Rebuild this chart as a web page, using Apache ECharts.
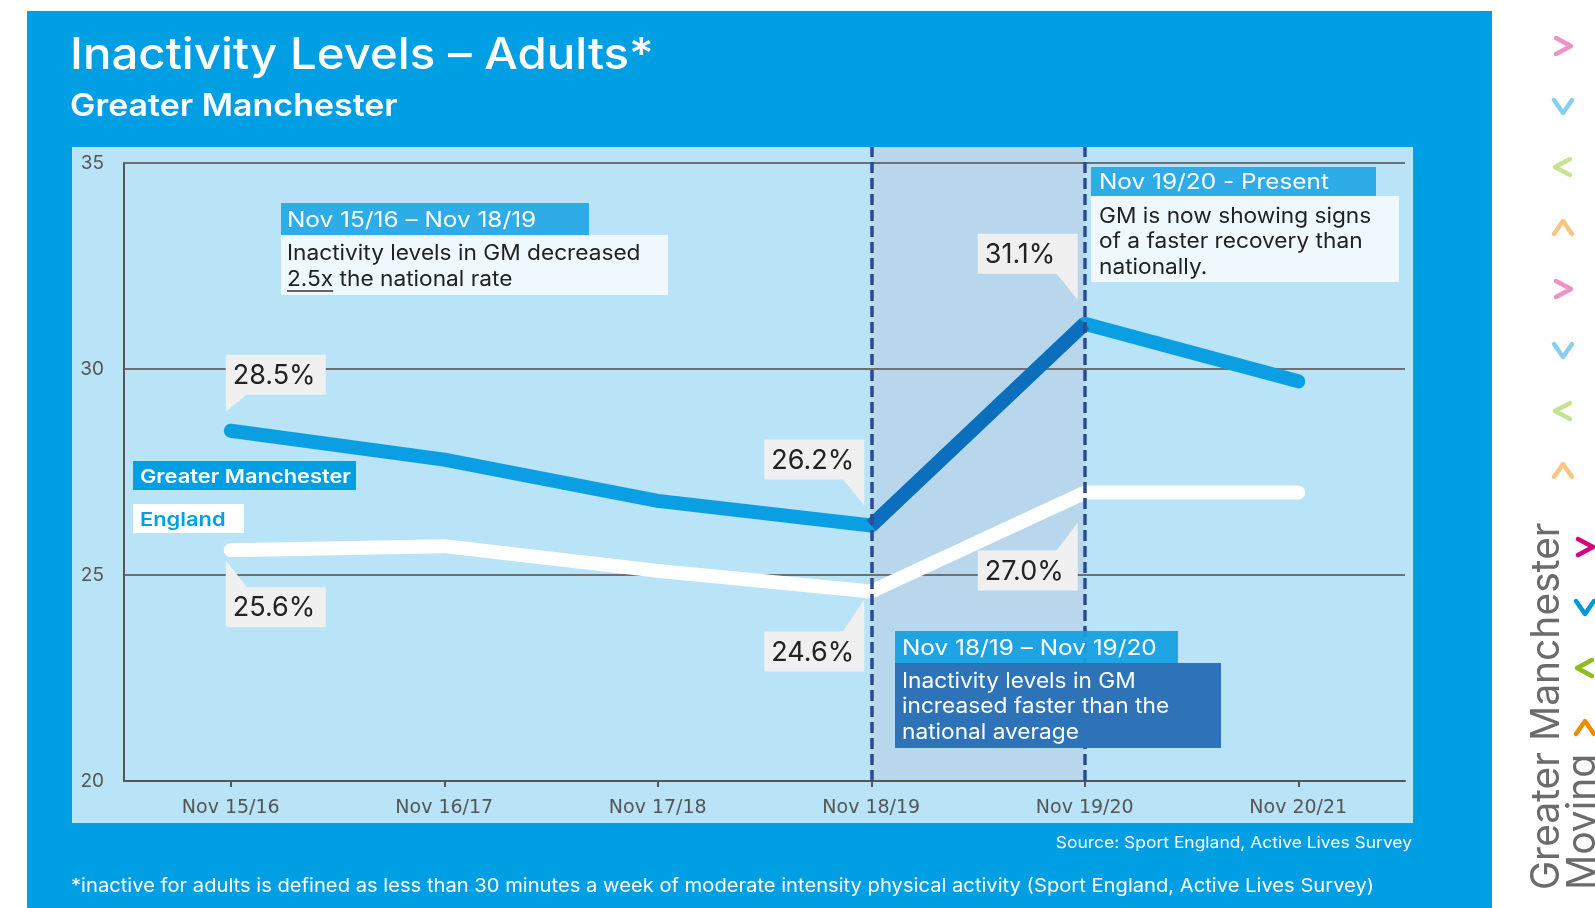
<!DOCTYPE html>
<html><head><meta charset="utf-8">
<script src="https://cdn.jsdelivr.net/npm/echarts@6/dist/echarts.min.js"></script>
<style>html,body{margin:0;padding:0;background:#fff;}#c{width:1595px;height:908px;}</style>
</head><body><div id="c"></div>
<script>
// ---------- data ----------
const categories = ['Nov 15/16', 'Nov 16/17', 'Nov 17/18', 'Nov 18/19', 'Nov 19/20', 'Nov 20/21'];
const gmValues = [28.5, 27.8, 26.8, 26.2, 31.1, 29.7];
const englandValues = [25.6, 25.7, 25.1, 24.6, 27.0, 27.0];
const yTicks = [20, 25, 30, 35];
const highlightRange = ['Nov 18/19', 'Nov 19/20'];
const calloutPoints = [['gm', 0], ['eng', 0], ['gm', 3], ['eng', 3], ['gm', 4], ['eng', 4]];

// ---------- style ----------
const FONT = 'Inter, Lato, sans-serif';
const BLUE = '#009fe3';
const calloutLayout = [
  {dir: 'ur', gap: 36, tip: 19},
  {dir: 'dr', gap: 37, tip: 10},
  {dir: 'ul', gap: 46, tip: 20},
  {dir: 'dl', gap: 40, tip: 8},
  {dir: 'ul', gap: 50, tip: 24},
  {dir: 'dl', gap: 58, tip: 30}
];

function measure(text, font) {
  const c = document.createElement('canvas').getContext('2d');
  c.font = font; return c.measureText(text).width;
}
const hi0 = categories.indexOf(highlightRange[0]);
const hi1 = categories.indexOf(highlightRange[1]);
const gmHighlight = gmValues.map((v, i) => (i >= hi0 && i <= hi1) ? v : null);
const calloutData = calloutPoints.map(([s, i]) => [i, (s === 'gm' ? gmValues : englandValues)[i]]);

function T(x, y, text, size, fill, weight, sx, align) {
  return {
    type: 'text', x: x, y: y, z: 20, silent: true, scaleX: sx || 1,
    style: {text: text, font: (weight || 'normal') + ' ' + size + 'px ' + FONT, fill: fill,
      textAlign: align || 'left', align: align || 'left', textVerticalAlign: 'middle', verticalAlign: 'middle'}
  };
}
function R(x, y, w, h, fill, z, opacity) {
  return {type: 'rect', z: z == null ? 19 : z, silent: true, shape: {x: x, y: y, width: w, height: h},
    style: {fill: fill, opacity: opacity == null ? 1 : opacity}};
}
function chevron(kind, cx, cy, color) {
  let pts;
  if (kind === '>') pts = [[cx - 7, cy - 8], [cx + 8, cy], [cx - 7, cy + 8]];
  else if (kind === '<') pts = [[cx + 7, cy - 8], [cx - 8, cy], [cx + 7, cy + 8]];
  else if (kind === 'v') pts = [[cx - 9, cy - 6], [cx, cy + 7], [cx + 9, cy - 6]];
  else pts = [[cx - 9, cy + 6], [cx, cy - 7], [cx + 9, cy + 6]];
  return {type: 'polyline', z: 20, silent: true, shape: {points: pts},
    style: {stroke: color, lineWidth: 4.5, lineCap: 'round', lineJoin: 'round', fill: null}};
}

const HS = 1.16, BS = 1.08;
const graphics = [];
// frames
graphics.push(R(27, 11, 1465, 897, BLUE, -21));
graphics.push(R(72, 147, 1341, 676, '#b9e3f6', -20));
// title
graphics.push(T(70, 56, 'Inactivity Levels – Adults*', 44, '#ffffff', '500', 1.077));
graphics.push(T(70, 107, 'Greater Manchester', 31, '#ffffff', '600', 1.095));
// annotation 1
graphics.push(R(281, 203, 308, 32, '#22a8e6', 19, 0.93));
graphics.push(T(287, 221, 'Nov 15/16 – Nov 18/19', 21, '#ffffff', 'normal', HS));
graphics.push(R(281, 235, 387, 60, '#eef8fd'));
graphics.push(T(287, 254, 'Inactivity levels in GM decreased', 21, '#222222', 'normal', BS));
graphics.push(T(287, 280, '2.5x the national rate', 21, '#222222', 'normal', BS));
const ulW = measure('2.5x', 'normal 21px ' + FONT) * BS;
graphics.push({type: 'line', z: 20, silent: true, shape: {x1: 287, y1: 291, x2: 287 + ulW, y2: 291}, style: {stroke: '#333', lineWidth: 1.5}});
// annotation 2
graphics.push(R(1091, 167, 285, 29, '#22a8e6', 19, 0.93));
graphics.push(T(1099, 183, 'Nov 19/20 - Present', 21, '#ffffff', 'normal', HS));
graphics.push(R(1091, 196, 308, 86, '#eef8fd'));
graphics.push(T(1099, 216.5, 'GM is now showing signs', 21, '#222222', 'normal', BS));
graphics.push(T(1099, 241.5, 'of a faster recovery than', 21, '#222222', 'normal', BS));
graphics.push(T(1099, 267.5, 'nationally.', 21, '#222222', 'normal', BS));
// annotation 3
graphics.push(R(895, 631, 283, 32, '#13a0e2', 19, 0.93));
graphics.push(T(902, 649, 'Nov 18/19 – Nov 19/20', 21, '#ffffff', 'normal', HS));
graphics.push(R(895, 663, 326, 85, '#2e72b7'));
graphics.push(T(902, 682, 'Inactivity levels in GM', 21, '#ffffff', 'normal', BS));
graphics.push(T(902, 707, 'increased faster than the', 21, '#ffffff', 'normal', BS));
graphics.push(T(902, 733, 'national average', 21, '#ffffff', 'normal', BS));
// legend labels
graphics.push(R(133, 461, 223, 29, BLUE));
graphics.push(T(140, 477, 'Greater Manchester', 19, '#ffffff', '600', 1.15));
graphics.push(R(133, 504, 111, 29, '#ffffff'));
graphics.push(T(140, 520, 'England', 19, BLUE, '600', 1.15));
// source + footnote
graphics.push(T(1412, 843, 'Source: Sport England, Active Lives Survey', 16, '#ffffff', 'normal', 1.09, 'right'));
graphics.push(T(71, 886, '*inactive for adults is defined as less than 30 minutes a week of moderate intensity physical activity (Sport England, Active Lives Survey)', 18.5, '#ffffff', 'normal', 1.09));
// right decoration
const pastel = [['>', '#ef93c6'], ['v', '#86cff1'], ['<', '#c7e293'], ['^', '#f6c683']];
const pastelY = [46, 106, 167, 228, 289, 350, 411, 471];
pastelY.forEach((y, i) => graphics.push(chevron(pastel[i % 4][0], 1563, y, pastel[i % 4][1])));
const bold = [['>', '#d4007d'], ['v', '#0096db'], ['<', '#8cbd1e'], ['^', '#ee8b00']];
[547, 607, 668, 728].forEach((y, i) => graphics.push(chevron(bold[i][0], 1585, y, bold[i][1])));
graphics.push({type: 'text', x: 1528, y: 890, rotation: Math.PI / 2, z: 20, silent: true,
  style: {text: 'Greater Manchester', font: '39px ' + FONT, fill: '#6b6b6b', textAlign: 'left', align: 'left', textVerticalAlign: 'top', verticalAlign: 'top'}});
graphics.push({type: 'text', x: 1564, y: 890, rotation: Math.PI / 2, z: 20, silent: true,
  style: {text: 'Moving', font: '39px ' + FONT, fill: '#6b6b6b', textAlign: 'left', align: 'left', textVerticalAlign: 'top', verticalAlign: 'top'}});

const chart = echarts.init(document.getElementById('c'), null, {renderer: 'canvas', width: 1595, height: 908});
chart.setOption({
  animation: false,
  backgroundColor: '#ffffff',
  textStyle: {fontFamily: FONT},
  grid: [
    {left: 124, right: 190, top: 163, bottom: 127},
    {left: 124, right: 190, top: 147, bottom: 127}
  ],
  xAxis: [
    {type: 'category', gridIndex: 0, data: categories, boundaryGap: true,
      axisLine: {lineStyle: {color: '#555', width: 2}},
      axisTick: {show: true, alignWithLabel: true, length: 6, lineStyle: {color: '#555', width: 2}},
      axisLabel: {color: '#555', fontSize: 19, margin: 18, fontFamily: '"DejaVu Sans", sans-serif'}},
    {type: 'category', gridIndex: 1, data: categories, boundaryGap: true, show: false}
  ],
  yAxis: [
    {type: 'value', gridIndex: 0, min: yTicks[0], max: yTicks[yTicks.length - 1], interval: yTicks[1] - yTicks[0],
      axisLine: {show: true, lineStyle: {color: '#555', width: 2}},
      axisTick: {show: false},
      axisLabel: {color: '#555', fontSize: 19, margin: 20, fontFamily: FONT},
      splitLine: {lineStyle: {color: '#707070', width: 2}}},
    {type: 'value', gridIndex: 1, min: 20, max: 36, show: false, splitLine: {show: false}}
  ],
  graphic: graphics,
  series: [
    {type: 'custom', name: 'callouts', xAxisIndex: 0, yAxisIndex: 0, z: 1, silent: true,
      data: calloutData,
      renderItem: function (params, api) {
        const p = api.coord([api.value(0), api.value(1)]);
        const L = calloutLayout[params.dataIndex];
        const w = 100, h = 40;
        const up = L.dir[0] === 'u', right = L.dir[1] === 'r';
        const left = right ? p[0] - 5 : p[0] - 7 - w;
        const top = up ? p[1] - L.gap - h : p[1] + L.gap;
        const edgeY = up ? top + h : top;
        const tipY = up ? p[1] - L.tip : p[1] + L.tip;
        const edgeX = right ? left : left + w;
        const baseX = right ? left + 22 : left + w - 22;
        return {type: 'group', children: [
          {type: 'polygon', shape: {points: [[edgeX, edgeY + (up ? -1 : 1)], [baseX, edgeY + (up ? -1 : 1)], [edgeX, tipY]]}, style: {fill: '#f0f0f0'}},
          {type: 'rect', shape: {x: left, y: top, width: w, height: h}, style: {fill: '#f0f0f0'}},
          {type: 'text', style: {x: left + 7, y: top + h / 2 + 1, text: api.value(1).toFixed(1) + '%', fill: '#222',
            font: '27px ' + FONT, textAlign: 'left', align: 'left', textVerticalAlign: 'middle', verticalAlign: 'middle'}}
        ]};
      }},
    {type: 'line', name: 'England', data: englandValues, xAxisIndex: 0, yAxisIndex: 0, z: 3,
      showSymbol: false, symbol: 'none', silent: true,
      lineStyle: {color: '#ffffff', width: 14, cap: 'round', join: 'round'}},
    {type: 'line', name: 'Greater Manchester', data: gmValues, xAxisIndex: 0, yAxisIndex: 0, z: 4,
      showSymbol: false, symbol: 'none', silent: true,
      lineStyle: {color: '#0a9fe2', width: 14, cap: 'round', join: 'round'}},
    {type: 'line', name: 'GM highlight', data: gmHighlight, xAxisIndex: 0, yAxisIndex: 0, z: 5,
      showSymbol: false, symbol: 'none', silent: true, connectNulls: false,
      lineStyle: {color: '#0b6fbe', width: 14, cap: 'butt', join: 'round'}},
    {type: 'line', name: 'period', data: categories.map(() => null), xAxisIndex: 1, yAxisIndex: 1, z: 0, silent: true,
      markArea: {z: -1, silent: true, itemStyle: {color: '#b9d7ec'},
        data: [[{xAxis: highlightRange[0]}, {xAxis: highlightRange[1]}]]},
      markLine: {z: 15, silent: true, symbol: 'none', label: {show: false},
        lineStyle: {type: [11, 5], color: '#2b4b94', width: 3.5},
        data: [{xAxis: highlightRange[0]}, {xAxis: highlightRange[1]}]}}
  ]
});
</script></body></html>
